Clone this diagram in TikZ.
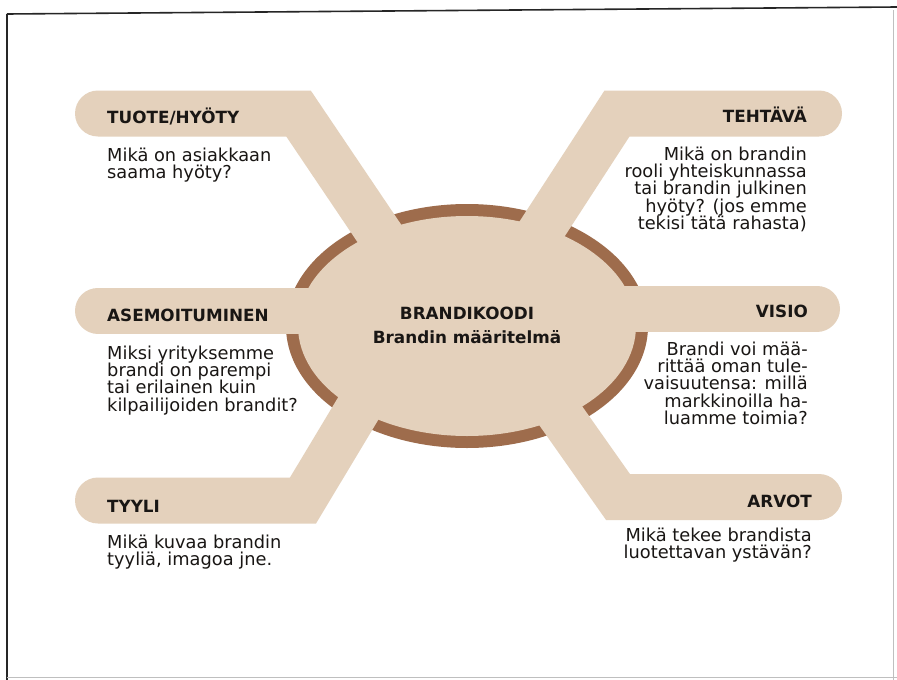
\documentclass[tikz,border=0pt]{standalone}
\usepackage{fontspec}
\setmainfont{DejaVu Sans}
\definecolor{armbeige}{RGB}{228,209,188}
\definecolor{ringbrown}{RGB}{158,108,76}
\definecolor{inkc}{RGB}{25,22,20}
\newcommand\hfnt{\bfseries\fontsize{16.8}{18}\selectfont}
\newcommand\bfnt{\fontsize{17.8}{17.3}\selectfont}
\tikzset{
  arm/.style={armbeige, line width=46pt, line cap=round, line join=miter},
  head/.style={font=\hfnt, text=inkc, inner sep=0pt},
  body/.style={font=\bfnt, text=inkc, inner sep=0pt},
  frameline/.style={black!85, line width=1.6pt},
  faintline/.style={black!25, line width=0.8pt}
}
\begin{document}
\begin{tikzpicture}[x=1pt,y=-1pt]
\useasboundingbox (0,0) rectangle (897,680);
\fill[white] (0,0) rectangle (897,680);
% frame
\coordinate (ftl) at (7,14);
\coordinate (ftr) at (897,7);
\coordinate (fbl) at (7,680);
\coordinate (frt) at (893,10);
\coordinate (frb) at (893,680);
\coordinate (fbr) at (897,677);
\coordinate (fbb) at (7,677);
\draw[frameline] (ftl) -- (ftr);
\draw[frameline, line width=1.3pt] (ftl) -- (fbl);
\draw[faintline] (frt) -- (frb);
\draw[faintline] (fbb) -- (fbr);
% central ellipse
\fill[ringbrown] (467,326) ellipse [x radius=181, y radius=122];
\fill[armbeige] (467,326) ellipse [x radius=169, y radius=110];
% arms
\draw[arm] (98,113.5) -- (298.5,113.5) -- (400,264);
\draw[arm] (819,113.5) -- (617,113.5) -- (519,264.5);
\draw[arm] (98,310.5) -- (430,310.5);
\draw[arm] (817,308.5) -- (505,308.5);
\draw[arm] (98,500.5) -- (303,500.5) -- (391,354);
\draw[arm] (819,497) -- (618,497) -- (520,358);
% centre text
\node[head, anchor=base] (brand) at (467,319) {BRANDIKOODI};
\node[head, anchor=base] (maar) at (467,343) {Brandin määritelmä};
% headings and questions
\node[head, anchor=base west] (tuote) at (107,123) {TUOTE/HYÖTY};
\node[body, anchor=north west, align=left] (tuoteq) at (107,147.6) {Mikä on asiakkaan\\saama hyöty?};
\node[head, anchor=base east] (tehtava) at (807,122) {TEHTÄVÄ};
\node[body, anchor=north east, align=right] (tehtavaq) at (807,146.6) {Mikä on brandin\\rooli yhteiskunnassa\\tai brandin julkinen\\hyöty? (jos emme\\tekisi tätä rahasta)};
\node[head, anchor=base west] (asemo) at (107,321) {ASEMOITUMINEN};
\node[body, anchor=north west, align=left] (asemoq) at (107,345.6) {Miksi yrityksemme\\brandi on parempi\\tai erilainen kuin\\kilpailijoiden brandit?};
\node[head, anchor=base east] (visio) at (808,317) {VISIO};
\node[body, anchor=north east, align=right] (visioq) at (808,341.6) {Brandi voi mää-\\rittää oman tule-\\vaisuutensa: millä\\markkinoilla ha-\\luamme toimia?};
\node[head, anchor=base west] (tyyli) at (107,512) {TYYLI};
\node[body, anchor=north west, align=left] (tyyliq) at (107,534.6) {Mikä kuvaa brandin\\tyyliä, imagoa jne.};
\node[head, anchor=base east] (arvot) at (812,507) {ARVOT};
\node[body, anchor=north east, align=right] (arvotq) at (812,527.6) {Mikä tekee brandista\\luotettavan ystävän?};
\end{tikzpicture}
\end{document}
